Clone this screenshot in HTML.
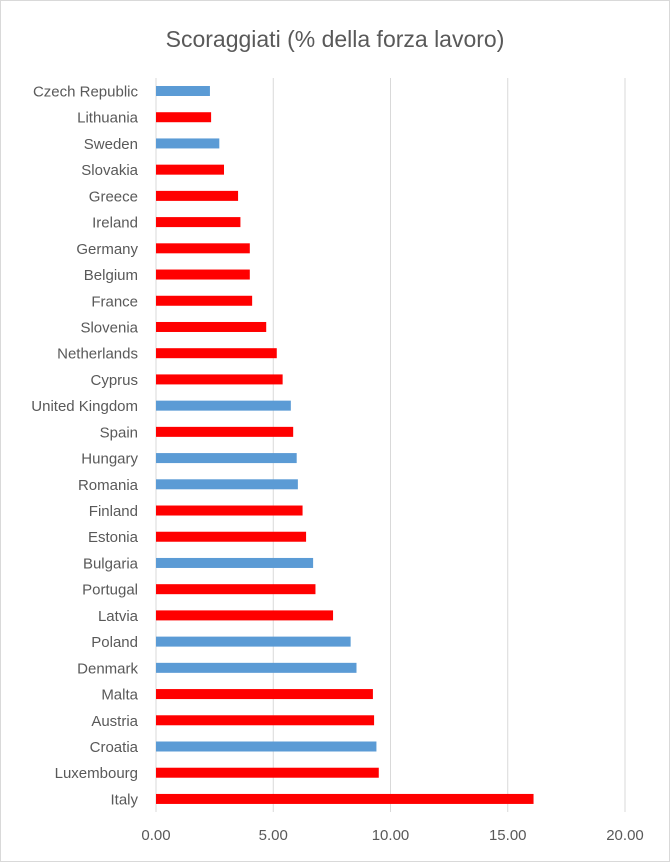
<!DOCTYPE html>
<html><head><meta charset="utf-8"><style>
body{margin:0;background:#fff;}
svg text{font-family:"Liberation Sans",sans-serif;}
</style></head><body>
<svg id="chart" width="670" height="862">
<rect x="0.5" y="0.5" width="669" height="861" fill="#fff" stroke="#d9d9d9"/>
<text x="335" y="47" text-anchor="middle" font-size="23" fill="#595959">Scoraggiati (% della forza lavoro)</text>
<g id="grid"></g><g id="bars"></g><g id="ylabels"></g><g id="xlabels"></g>
</svg>
<script>
const categories=["Czech Republic","Lithuania","Sweden","Slovakia","Greece","Ireland","Germany","Belgium","France","Slovenia","Netherlands","Cyprus","United Kingdom","Spain","Hungary","Romania","Finland","Estonia","Bulgaria","Portugal","Latvia","Poland","Denmark","Malta","Austria","Croatia","Luxembourg","Italy"];
const values=[2.3,2.35,2.7,2.9,3.5,3.6,4.0,4.0,4.1,4.7,5.15,5.4,5.75,5.85,6.0,6.05,6.25,6.4,6.7,6.8,7.55,8.3,8.55,9.25,9.3,9.4,9.5,16.1];
const isEuro=[0,1,0,1,1,1,1,1,1,1,1,1,0,1,0,0,1,1,0,1,1,0,0,1,1,0,1,1];
const ticks=[0,5,10,15,20];
const tickLabels=["0.00","5.00","10.00","15.00","20.00"];
const NS="http://www.w3.org/2000/svg";
const x=v=>156+v*23.45;
const y=i=>91+i*26.22;
function mk(t,a,p){const e=document.createElementNS(NS,t);for(const k in a)e.setAttribute(k,a[k]);p.appendChild(e);return e;}
const grid=document.getElementById('grid'),bars=document.getElementById('bars'),yl=document.getElementById('ylabels'),xl=document.getElementById('xlabels');
ticks.forEach((t,i)=>{
 if(t>0){const l=mk('line',{x1:x(t),x2:x(t),y1:78,y2:812,stroke:'#d9d9d9','stroke-width':1},grid);
 
 }
 const tx=mk('text',{x:x(t),y:840,'text-anchor':'middle','font-size':15,fill:'#595959'},xl);tx.textContent=tickLabels[i];
 
 
});
const ax=mk('line',{x1:156,x2:156,y1:78,y2:812,stroke:'#d9d9d9'},grid);


categories.forEach((c,i)=>{
 const r=mk('rect',{x:x(0),y:y(i)-5,width:x(values[i])-x(0),height:10,fill:isEuro[i]?'#ff0000':'#5b9bd5'},bars);
 
 
 const t=mk('text',{x:138,y:y(i)+5.5,'text-anchor':'end','font-size':15,fill:'#595959'},yl);t.textContent=c;
 
 
});
</script>
</body></html>
